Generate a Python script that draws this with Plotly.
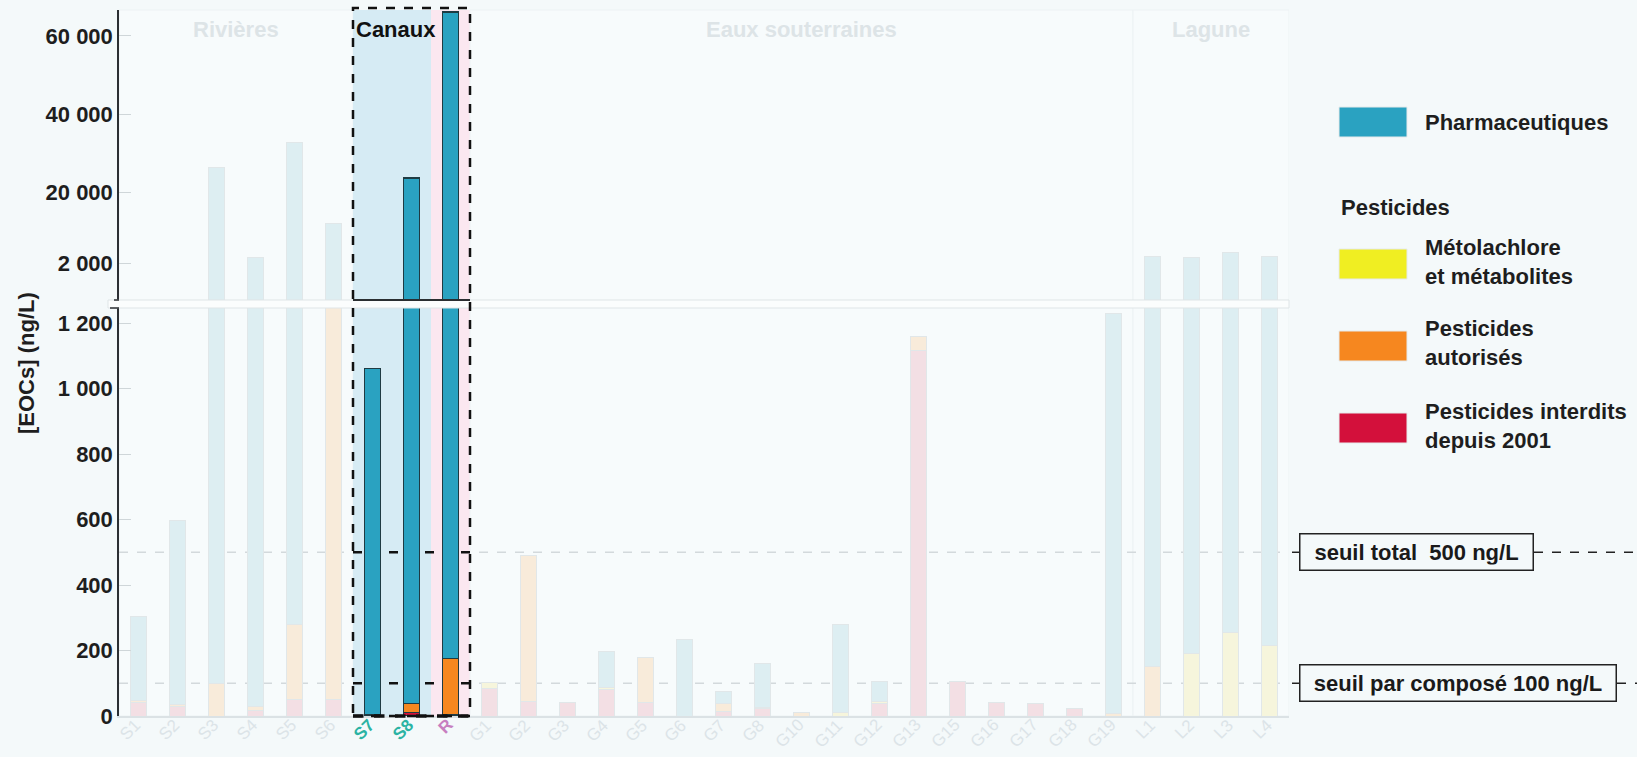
import plotly.graph_objects as go

# stations and their site group
stations = ["S1", "S2", "S3", "S4", "S5", "S6", "S7", "S8", "R",
            "G1", "G2", "G3", "G4", "G5", "G6", "G7", "G8", "G10", "G11", "G12",
            "G13", "G15", "G16", "G17", "G18", "G19", "L1", "L2", "L3", "L4"]
groups = ["Rivières"] * 6 + ["Canaux"] * 3 + ["Eaux souterraines"] * 17 + ["Lagune"] * 4
group_names = ["Rivières", "Canaux", "Eaux souterraines", "Lagune"]
highlight_group = "Canaux"

# concentrations (ng/L), stacked bottom -> top
interdits = [40, 30, 0, 18, 50, 50, 2, 10, 3,
             85, 44, 42, 82, 40, 0, 13, 22, 0, 0, 37,
             1115, 104, 40, 38, 24, 0, 0, 0, 0, 0]
autorises = [6, 4, 100, 12, 230, 1500, 3, 28, 172,
             0, 446, 0, 0, 138, 0, 24, 0, 11, 0, 0,
             45, 0, 0, 0, 0, 8, 150, 0, 0, 0]
metolachlore = [0, 0, 0, 0, 0, 0, 0, 0, 0,
                17, 0, 0, 5, 0, 0, 0, 4, 0, 10, 7,
                0, 0, 0, 0, 0, 0, 0, 190, 255, 215]
pharma = [259, 562, 26400, 3270, 32420, 10650, 1057, 23662, 65925,
          0, 0, 0, 109, 0, 234, 39, 133, 0, 270, 61,
          0, 0, 0, 0, 0, 1222, 3450, 3110, 4545, 3385]

lower_ticks = [0, 200, 400, 600, 800, 1000, 1200]
lower_ticktext = ["0", "200", "400", "600", "800", "1 000", "1 200"]
upper_ticks = [2000, 20000, 40000, 60000]
upper_ticktext = ["2 000", "20 000", "40 000", "60 000"]
thresholds = [500, 100]
threshold_labels = ["seuil total&nbsp; 500 ng/L", "seuil par composé 100 ng/L"]

LOWER_MAX = 1246
UPPER_MIN, UPPER_MAX = -7450, 66640

FONT = "Liberation Sans, Arial, sans-serif"
PAGE_BG = "#f4f9fa"

series = [
    ("Pesticides interdits", interdits, "#d3103b", "#f3dfe4"),
    ("Pesticides autorisés", autorises, "#f6871f", "#f8ebda"),
    ("Métolachlore", metolachlore, "#f0ee22", "#f6f5dc"),
    ("Pharmaceutiques", pharma, "#2aa2c1", "#ddeef2"),
]

is_hi = [g == highlight_group for g in groups]
line_cols = ["#1f3b43" if h else "#e1e7e9" for h in is_hi]
line_w = [1.5 if h else 1 for h in is_hi]

fig = go.Figure()
for name, vals, bright, pale in series:
    fig.add_trace(go.Bar(
        x=stations, y=vals, name=name, xaxis="x", yaxis="y", width=0.41,
        marker=dict(color=[bright if h else pale for h in is_hi],
                    line=dict(color=line_cols, width=line_w)),
        showlegend=False,
    ))

# upper (broken) panel: only bars that overflow the lower panel
totals = [a + b + c + d for a, b, c, d in zip(interdits, autorises, metolachlore, pharma)]
upper_y = [t - UPPER_MIN if t > LOWER_MAX else None for t in totals]
fig.add_trace(go.Bar(
    x=stations, y=upper_y, base=UPPER_MIN, xaxis="x2", yaxis="y2", width=0.41,
    marker=dict(color=[series[3][2] if h else series[3][3] for h in is_hi],
                line=dict(color=line_cols, width=line_w)),
    showlegend=False,
))

# pixel helpers for paper coordinates (plot area 119..1289 x 10..716)
L, R_, T, B = 119, 1289, 10, 716
def px(x):
    return (x - L) / (R_ - L)
def py(y):
    return (B - y) / (B - T)

shapes = []
bounds = {"Rivières": (-0.5, 5.5), "Canaux": (5.5, 8.5),
          "Eaux souterraines": (8.5, 25.5), "Lagune": (25.5, 29.5)}
for g in group_names:
    x0, x1 = bounds[g]
    if g == highlight_group:
        shapes.append(dict(type="rect", xref="x", yref="paper", x0=x0, x1=7.5, y0=0, y1=1,
                           fillcolor="#d6ebf4", line_width=0, layer="below"))
        shapes.append(dict(type="rect", xref="x", yref="paper", x0=7.5, x1=x1, y0=0, y1=1,
                           fillcolor="#fbe7f0", line_width=0, layer="below"))
    else:
        shapes.append(dict(type="rect", xref="x", yref="paper", x0=x0, x1=x1, y0=0, y1=1,
                           fillcolor="#f7fbfc", line=dict(color="#edf2f4", width=1), layer="below"))

hx0, hx1 = bounds[highlight_group]
for t in thresholds:
    shapes.append(dict(type="line", xref="paper", yref="y", x0=0, x1=1, y0=t, y1=t,
                       line=dict(color="#d3d9dc", width=1.5, dash="dash"), layer="below"))
    shapes.append(dict(type="line", xref="x", yref="y", x0=hx0, x1=hx1, y0=t, y1=t,
                       line=dict(color="#111111", width=2.5, dash="dash"), layer="below"))

# axis break band
shapes.append(dict(type="rect", xref="paper", yref="paper", x0=px(108), x1=1,
                   y0=py(308), y1=py(300), fillcolor="#fbfdfd",
                   line=dict(color="#dfe5e7", width=1), layer="above"))
shapes.append(dict(type="line", xref="x", yref="paper", x0=hx0, x1=hx1, y0=py(300), y1=py(300),
                   line=dict(color="#2a2e31", width=2), layer="above"))
for yy, xl in ((300, 114), (308, 110)):
    shapes.append(dict(type="line", xref="paper", yref="paper", x0=px(xl), x1=0,
                       y0=py(yy), y1=py(yy), line=dict(color="#2b2f33", width=1.5)))

# dashed box around the highlighted group
shapes.append(dict(type="rect", xref="x", yref="paper", x0=hx0, x1=hx1, y0=0, y1=py(8),
                   line=dict(color="#111111", width=2.5, dash="dash"), layer="above"))
shapes.append(dict(type="line", xref="x", yref="paper", x0=hx0, x1=hx1, y0=0, y1=0,
                   line=dict(color="#111111", width=3.5, dash="dash"), layer="above"))

annotations = []
# threshold labels on the right
box_right = [1534, 1617]
for t, lab, br in zip(thresholds, threshold_labels, box_right):
    annotations.append(dict(xref="paper", yref="y", x=px(1299), y=t, xanchor="left",
                            yanchor="middle", text="<b>" + lab + "</b>", showarrow=False,
                            width=br - 1299 - 13, bordercolor="#222222", borderwidth=1.5,
                            borderpad=5, bgcolor=PAGE_BG,
                            font=dict(family=FONT, size=22, color="#1a1a1a")))
    shapes.append(dict(type="line", xref="paper", yref="y", x0=px(1292), x1=px(1299),
                       y0=t, y1=t, line=dict(color="#222222", width=1.5)))
    shapes.append(dict(type="line", xref="paper", yref="y", x0=px(br), x1=px(1640),
                       y0=t, y1=t, line=dict(color="#222222", width=1.5, dash="dash")))

# group titles
for g in group_names:
    x0, x1 = bounds[g]
    if g == highlight_group:
        annotations.append(dict(xref="x", yref="paper", x=x0, y=py(30), xanchor="left",
                                yanchor="middle", xshift=1,
                                text="<b>" + g + "</b>", showarrow=False,
                                font=dict(family=FONT, size=22, color="#111111")))
    else:
        annotations.append(dict(xref="x", yref="paper", x=(x0 + x1) / 2, y=py(30),
                                xanchor="center", yanchor="middle",
                                text="<b>" + g + "</b>", showarrow=False,
                                font=dict(family=FONT, size=22, color="#dde4e7")))

# legend drawn by hand
legend_items = [
    ("Pharmaceutiques", series[3][2], 122, 122),
    ("Métolachlore<br>et métabolites", series[2][2], 264, 262),
    ("Pesticides<br>autorisés", series[1][2], 346, 343),
    ("Pesticides interdits<br>depuis 2001", series[0][2], 428, 426),
]
for text, col, ysw, ytx in legend_items:
    shapes.append(dict(type="rect", xref="paper", yref="paper", x0=px(1339), x1=px(1407),
                       y0=py(ysw + 15), y1=py(ysw - 15), fillcolor=col,
                       line=dict(color="#e6eaeb", width=1)))
    annotations.append(dict(xref="paper", yref="paper", x=px(1423), y=py(ytx), xanchor="left",
                            yanchor="middle", align="left", text="<b>" + text + "</b>",
                            showarrow=False,
                            font=dict(family=FONT, size=22, color="#1e1e1e")))
annotations.append(dict(xref="paper", yref="paper", x=px(1339), y=py(207), xanchor="left",
                        yanchor="middle", text="<b>Pesticides</b>", showarrow=False,
                        font=dict(family=FONT, size=22, color="#1e1e1e")))

# y title
annotations.append(dict(xref="paper", yref="paper", x=px(26), y=py(363), textangle=-90,
                        xanchor="center", yanchor="middle",
                        text="<b>[EOCs] (ng/L)</b>", showarrow=False,
                        font=dict(family=FONT, size=22, color="#1e1e1e")))

# station labels (rotated, end of text just under each bar)
label_cols = {"S7": "#2bb3a3", "S8": "#2bb3a3", "R": "#c77fc0"}
for s in stations:
    txt = "<b>%s</b>" % s if s in label_cols else s
    annotations.append(dict(xref="x", yref="paper", x=s, y=py(713), xanchor="right",
                            yanchor="top", xshift=9, textangle=-45, text=txt,
                            showarrow=False,
                            font=dict(family=FONT, size=17,
                                      color=label_cols.get(s, "#dce4e8"))))

axis_font = dict(family=FONT, size=22, color="#1e1e1e")
fig.update_layout(
    width=1637, height=757,
    margin=dict(l=L, r=1637 - R_, t=T, b=757 - B),
    paper_bgcolor=PAGE_BG, plot_bgcolor=PAGE_BG,
    barmode="stack",
    font=dict(family=FONT),
    xaxis=dict(domain=[0, 1], range=[-0.5, 29.5], anchor="y", automargin=False,
               showticklabels=False, showline=True, linecolor="#dbe2e5",
               linewidth=1.5, ticks="", showgrid=False, zeroline=False),
    xaxis2=dict(domain=[0, 1], range=[-0.5, 29.5], anchor="y2", matches="x",
                automargin=False, showticklabels=False, showgrid=False,
                zeroline=False, ticks=""),
    yaxis=dict(domain=[0, py(308)], range=[0, LOWER_MAX], anchor="x", automargin=False,
               tickvals=lower_ticks, ticktext=["<b>%s</b>" % t for t in lower_ticktext],
               tickfont=axis_font, ticks="inside", ticklen=12, tickcolor="#cfd6d9",
               showline=True, linecolor="#2b2f33", linewidth=1.5,
               showgrid=False, zeroline=False),
    yaxis2=dict(domain=[py(300), 1], range=[UPPER_MIN, UPPER_MAX], anchor="x2",
                automargin=False,
                tickvals=upper_ticks, ticktext=["<b>%s</b>" % t for t in upper_ticktext],
                tickfont=axis_font, ticks="inside", ticklen=12, tickcolor="#cfd6d9",
                showline=True, linecolor="#2b2f33", linewidth=1.5,
                showgrid=False, zeroline=False),
    shapes=shapes,
    annotations=annotations,
)

fig.write_html("out.html", config={"displayModeBar": False},
               post_script="document.body.style.margin='0';")
